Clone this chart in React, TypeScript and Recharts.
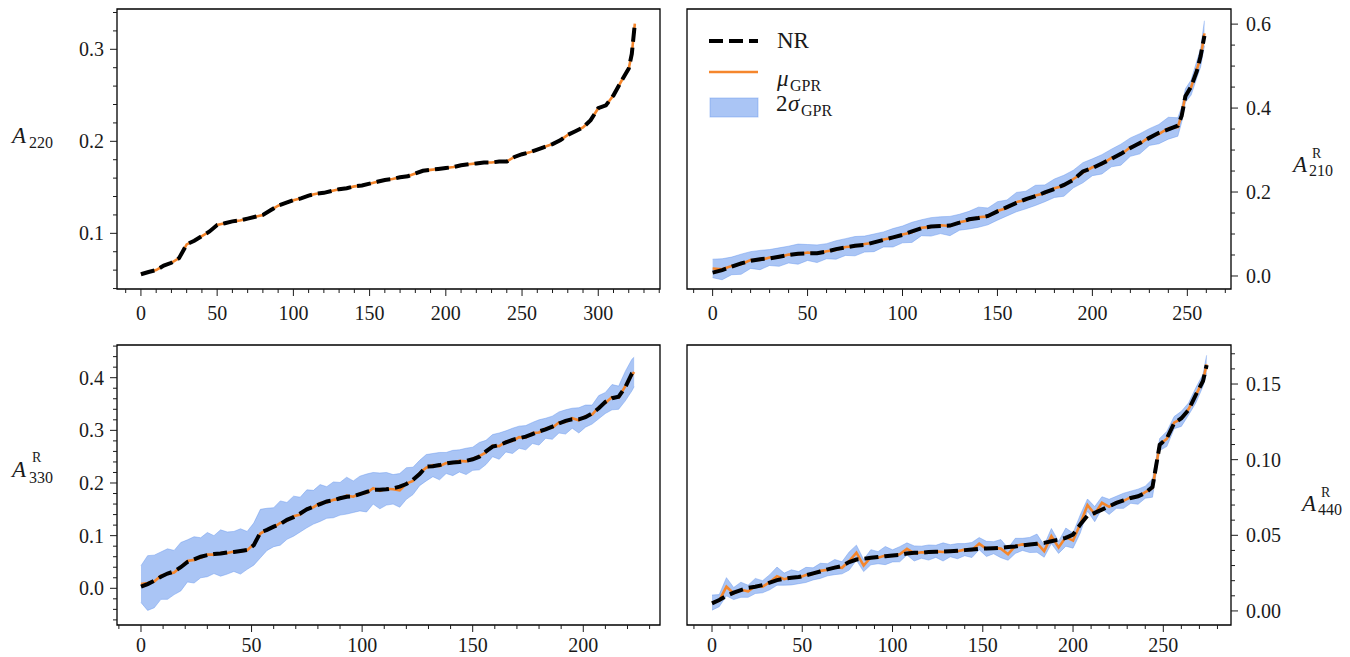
import React from 'react'
import { ComposedChart, Line, Area, XAxis, YAxis, ReferenceArea } from 'recharts'

// ---- A220 (top left) ----
const idxA220 = [0, 5, 10, 15, 20, 25, 30, 35, 40, 45, 50, 55, 60, 65, 70, 75, 80, 85, 90, 95, 100, 105, 110, 115, 120, 125, 130, 135, 140, 145, 150, 155, 160, 165, 170, 175, 180, 185, 190, 195, 200, 205, 210, 215, 220, 225, 230, 235, 240, 245, 250, 255, 260, 265, 270, 275, 280, 285, 290, 295, 300, 305, 310, 315, 320, 322, 324]
const nrA220 = [
  0.0555, 0.058, 0.06, 0.065, 0.068, 0.073, 0.088, 0.092, 0.097, 0.102,
  0.109, 0.111, 0.113, 0.114, 0.116, 0.118, 0.12, 0.125, 0.13, 0.133,
  0.136, 0.138, 0.141, 0.143, 0.144, 0.146, 0.148, 0.149, 0.151, 0.152,
  0.154, 0.156, 0.158, 0.159, 0.161, 0.162, 0.165, 0.168, 0.169, 0.17,
  0.171, 0.172, 0.174, 0.175, 0.176, 0.177, 0.177, 0.178, 0.178, 0.183,
  0.186, 0.188, 0.191, 0.194, 0.197, 0.201, 0.207, 0.211, 0.215, 0.223,
  0.236, 0.239, 0.25, 0.265, 0.279, 0.295, 0.328,
]
// GPR mean sits on top of NR here
const muA220 = nrA220

// ---- A210^R (top right) ----
const idxA210 = [0, 5, 10, 15, 20, 25, 30, 35, 40, 45, 50, 55, 60, 65, 70, 75, 80, 85, 90, 95, 100, 105, 110, 115, 120, 125, 130, 135, 140, 145, 150, 155, 160, 165, 170, 175, 180, 185, 190, 195, 200, 205, 210, 215, 220, 225, 230, 235, 240, 245, 247, 249, 252, 255, 257, 259]
const nrA210 = [
  0.008, 0.014, 0.022, 0.03, 0.036, 0.04, 0.042, 0.046, 0.05, 0.053,
  0.054, 0.054, 0.058, 0.064, 0.068, 0.072, 0.074, 0.08, 0.086, 0.092,
  0.098, 0.106, 0.114, 0.118, 0.119, 0.12, 0.127, 0.135, 0.138, 0.143,
  0.154, 0.164, 0.174, 0.183, 0.19, 0.199, 0.207, 0.217, 0.229, 0.249,
  0.257, 0.268, 0.279, 0.291, 0.305, 0.317, 0.329, 0.341, 0.349, 0.358,
  0.381, 0.428, 0.451, 0.488, 0.524, 0.572,
]
const muA210 = [
  0.018, 0.016, 0.024, 0.028, 0.038, 0.038, 0.044, 0.045, 0.051, 0.052,
  0.056, 0.053, 0.059, 0.062, 0.069, 0.071, 0.076, 0.079, 0.087, 0.091,
  0.099, 0.104, 0.115, 0.117, 0.121, 0.119, 0.128, 0.133, 0.14, 0.142,
  0.155, 0.162, 0.176, 0.181, 0.192, 0.197, 0.209, 0.215, 0.231, 0.246,
  0.259, 0.266, 0.281, 0.289, 0.307, 0.315, 0.331, 0.338, 0.352, 0.355,
  0.384, 0.43, 0.449, 0.492, 0.52, 0.578,
]
const sigA210 = [
  0.022, 0.025, 0.021, 0.024, 0.02, 0.023, 0.019, 0.022, 0.02, 0.024,
  0.019, 0.021, 0.018, 0.022, 0.02, 0.023, 0.019, 0.021, 0.018, 0.022,
  0.02, 0.024, 0.019, 0.022, 0.02, 0.023, 0.019, 0.021, 0.024, 0.02,
  0.022, 0.019, 0.023, 0.021, 0.024, 0.02, 0.022, 0.025, 0.021, 0.024,
  0.02, 0.023, 0.021, 0.025, 0.022, 0.024, 0.02, 0.023, 0.026, 0.022,
  0.018, 0.016, 0.018, 0.02, 0.022, 0.03,
]

// ---- A330^R (bottom left) ----
const idxA330 = [0, 3, 6, 9, 12, 15, 18, 21, 24, 27, 30, 33, 36, 39, 42, 45, 48, 51, 54, 57, 60, 63, 66, 69, 72, 75, 78, 81, 84, 87, 90, 93, 96, 99, 102, 105, 108, 111, 114, 117, 120, 123, 126, 129, 132, 135, 138, 141, 144, 147, 150, 153, 156, 159, 162, 165, 168, 171, 174, 177, 180, 183, 186, 189, 192, 195, 198, 201, 204, 207, 210, 213, 216, 219, 222, 223]
const nrA330 = [
  0.003, 0.008, 0.0146, 0.022, 0.028, 0.032, 0.04, 0.05, 0.055, 0.06,
  0.063, 0.065, 0.066, 0.068, 0.069, 0.071, 0.073, 0.082, 0.106, 0.111,
  0.117, 0.122, 0.13, 0.135, 0.142, 0.15, 0.155, 0.16, 0.165, 0.167,
  0.171, 0.174, 0.175, 0.179, 0.183, 0.187, 0.187, 0.188, 0.19, 0.193,
  0.198, 0.206, 0.217, 0.231, 0.232, 0.234, 0.237, 0.239, 0.24, 0.242,
  0.245, 0.25, 0.26, 0.269, 0.272, 0.277, 0.282, 0.285, 0.288, 0.293,
  0.298, 0.302, 0.307, 0.313, 0.318, 0.321, 0.321, 0.325, 0.332, 0.342,
  0.354, 0.361, 0.364, 0.382, 0.408, 0.41,
]
const muA330 = [
  0.008, 0.01, 0.013, 0.024, 0.027, 0.03, 0.041, 0.052, 0.054, 0.058,
  0.064, 0.064, 0.067, 0.067, 0.07, 0.07, 0.072, 0.084, 0.104, 0.112,
  0.116, 0.124, 0.128, 0.137, 0.14, 0.151, 0.154, 0.162, 0.163, 0.168,
  0.17, 0.176, 0.174, 0.18, 0.181, 0.19, 0.185, 0.189, 0.188, 0.186,
  0.199, 0.204, 0.219, 0.229, 0.234, 0.232, 0.238, 0.238, 0.242, 0.241,
  0.246, 0.251, 0.258, 0.271, 0.27, 0.279, 0.28, 0.287, 0.286, 0.295,
  0.296, 0.304, 0.305, 0.315, 0.316, 0.323, 0.319, 0.327, 0.33, 0.344,
  0.352, 0.363, 0.362, 0.384, 0.405, 0.411,
]
const sigA330 = [
  0.035, 0.052, 0.05, 0.045, 0.048, 0.042, 0.046, 0.04, 0.044, 0.038,
  0.042, 0.036, 0.044, 0.04, 0.038, 0.043, 0.036, 0.04, 0.046, 0.04,
  0.037, 0.042, 0.035, 0.038, 0.033, 0.036, 0.032, 0.035, 0.03, 0.034,
  0.031, 0.035, 0.03, 0.033, 0.036, 0.03, 0.034, 0.031, 0.028, 0.032,
  0.03, 0.026, 0.024, 0.025, 0.022, 0.026, 0.02, 0.024, 0.021, 0.025,
  0.022, 0.026, 0.023, 0.021, 0.025, 0.02, 0.024, 0.021, 0.023, 0.02,
  0.024, 0.019, 0.022, 0.02, 0.023, 0.019, 0.024, 0.021, 0.018, 0.022,
  0.02, 0.024, 0.022, 0.028, 0.03, 0.028,
]

// ---- A440^R (bottom right) ----
const idxA440 = [0, 4, 8, 12, 16, 20, 24, 28, 32, 36, 40, 44, 48, 52, 56, 60, 64, 68, 72, 76, 80, 84, 88, 92, 96, 100, 104, 108, 112, 116, 120, 124, 128, 132, 136, 140, 144, 148, 152, 156, 160, 164, 168, 172, 176, 180, 184, 188, 192, 196, 200, 204, 208, 212, 216, 220, 224, 228, 232, 236, 240, 244, 248, 252, 256, 260, 264, 268, 272, 274]
const nrA440 = [
  0.005, 0.0072, 0.0099, 0.0121, 0.0138, 0.0152, 0.016, 0.0171, 0.0187, 0.0204,
  0.0213, 0.022, 0.0224, 0.0235, 0.0248, 0.0261, 0.0275, 0.0286, 0.0297, 0.0323,
  0.034, 0.0345, 0.0351, 0.0356, 0.0362, 0.0367, 0.0371, 0.038, 0.0384, 0.0384,
  0.0389, 0.0391, 0.0393, 0.0395, 0.0398, 0.0402, 0.0406, 0.0411, 0.0413, 0.0415,
  0.0417, 0.0422, 0.0426, 0.0433, 0.0439, 0.0444, 0.045, 0.0461, 0.0472, 0.0483,
  0.0505, 0.0571, 0.063, 0.0648, 0.067, 0.0692, 0.0714, 0.0731, 0.0747, 0.0758,
  0.078, 0.0819, 0.1098, 0.1142, 0.1241, 0.1274, 0.1329, 0.1428, 0.152, 0.1625,
]
const muA440 = [
  0.0055, 0.0068, 0.016, 0.0115, 0.014, 0.013, 0.0165, 0.016, 0.019, 0.023,
  0.021, 0.0222, 0.022, 0.0238, 0.0245, 0.0265, 0.0272, 0.029, 0.0285, 0.033,
  0.0385, 0.03, 0.0355, 0.0352, 0.0366, 0.0364, 0.0375, 0.041, 0.038, 0.0388,
  0.0386, 0.0394, 0.039, 0.0398, 0.0395, 0.0405, 0.0403, 0.0445, 0.041, 0.0418,
  0.0412, 0.0375, 0.043, 0.044, 0.0436, 0.0448, 0.0395, 0.0495, 0.042, 0.0488,
  0.0465, 0.0575, 0.07, 0.064, 0.0715, 0.0688, 0.0718, 0.0728, 0.0752, 0.0755,
  0.0785, 0.0812, 0.11, 0.1138, 0.1245, 0.127, 0.1335, 0.1425, 0.1525, 0.163,
]
const sigA440 = [
  0.005, 0.004, 0.006, 0.004, 0.005, 0.004, 0.005, 0.004, 0.005, 0.006,
  0.004, 0.005, 0.004, 0.005, 0.004, 0.005, 0.004, 0.005, 0.004, 0.006,
  0.005, 0.004, 0.005, 0.004, 0.006, 0.004, 0.005, 0.004, 0.005, 0.004,
  0.005, 0.004, 0.006, 0.004, 0.005, 0.004, 0.005, 0.004, 0.005, 0.004,
  0.006, 0.004, 0.005, 0.004, 0.005, 0.006, 0.004, 0.005, 0.004, 0.006,
  0.005, 0.006, 0.004, 0.005, 0.004, 0.005, 0.004, 0.005, 0.004, 0.005,
  0.004, 0.006, 0.004, 0.005, 0.004, 0.005, 0.004, 0.005, 0.004, 0.006,
]

// tick labels
const xMajorA220 = [0, 50, 100, 150, 200, 250, 300]
const xMajorA210 = [0, 50, 100, 150, 200, 250]
const xMajorA330 = [0, 50, 100, 150, 200]
const xMajorA440 = [0, 50, 100, 150, 200, 250]
const yMajorA220 = [0.1, 0.2, 0.3]
const yMajorA210 = [0.0, 0.2, 0.4, 0.6]
const yMajorA330 = [0.0, 0.1, 0.2, 0.3, 0.4]
const yMajorA440 = [0.0, 0.05, 0.1, 0.15]

const SERIF = '"Liberation Serif", "DejaVu Serif", serif'
const INK = '#1a1a1a'
const ORANGE = '#f5862c'
const BLUE = '#6495ed'

function steps(lo: number, hi: number, step: number) {
  const out: number[] = []
  for (let v = lo; v <= hi + step / 1000; v += step) out.push(Math.round(v * 1e6) / 1e6)
  return out
}

function buildRows(xs: number[], nr: number[], mu: number[], sig?: number[]) {
  return xs.map((x, i) => ({
    x,
    nr: nr[i],
    mu: mu[i],
    band: sig ? [mu[i] - sig[i], mu[i] + sig[i]] : undefined,
  }))
}

function makeTick(side: 'bottom' | 'left' | 'right', majors: number[], digits: number, labelDy = 31) {
  return (props: any) => {
    const { x, y, payload } = props
    const v = payload.value as number
    const major = majors.some((m) => Math.abs(m - v) < 1e-9)
    const len = major ? 7 : 4
    const label = major ? v.toFixed(digits) : ''
    if (side === 'bottom') {
      return (
        <g>
          <line x1={x} x2={x} y1={y} y2={y + len} stroke={INK} strokeWidth={1} />
          {major && (
            <text x={x} y={y + labelDy} textAnchor="middle" fontFamily={SERIF} fontSize={20} fill={INK}>
              {label}
            </text>
          )}
        </g>
      )
    }
    const dir = side === 'left' ? -1 : 1
    return (
      <g>
        <line x1={x} x2={x + dir * len} y1={y} y2={y} stroke={INK} strokeWidth={1} />
        {major && (
          <text
            x={side === 'left' ? x - 13 : x + 15}
            y={y + 7}
            textAnchor={side === 'left' ? 'end' : 'start'}
            fontFamily={SERIF}
            fontSize={20}
            fill={INK}
          >
            {label}
          </text>
        )}
      </g>
    )
  }
}

type PanelProps = {
  left: number
  top: number
  height: number
  side: 'left' | 'right'
  rows: any[]
  band: boolean
  xDom: [number, number]
  yDom: [number, number]
  xTicks: number[]
  xMajor: number[]
  yTicks: number[]
  yMajor: number[]
  yDigits: number
  marginTop: number
  xAxisH: number
  labelDy: number
}

function Panel(p: PanelProps) {
  const isLeft = p.side === 'left'
  return (
    <div style={{ position: 'absolute', left: p.left, top: p.top }}>
      <ComposedChart
        width={680}
        height={p.height}
        data={p.rows}
        margin={{ top: p.marginTop, right: isLeft ? 20 : 0, bottom: 0, left: isLeft ? 0 : 17 }}
      >
        <XAxis
          dataKey="x"
          type="number"
          domain={p.xDom}
          ticks={p.xTicks}
          interval={0}
          allowDataOverflow
          axisLine={false}
          tickLine={false}
          tickSize={0}
          tickMargin={0}
          height={p.xAxisH}
          tick={makeTick('bottom', p.xMajor, 0, p.labelDy)}
        />
        <YAxis
          type="number"
          orientation={p.side}
          width={isLeft ? 117 : 119}
          domain={p.yDom}
          ticks={p.yTicks}
          interval={0}
          allowDataOverflow
          axisLine={false}
          tickLine={false}
          tickSize={0}
          tickMargin={0}
          tick={makeTick(p.side, p.yMajor, p.yDigits)}
        />
        {p.band && (
          <Area
            dataKey="band"
            type="linear"
            stroke={BLUE}
            strokeOpacity={0.45}
            strokeWidth={1}
            fill={BLUE}
            fillOpacity={0.55}
            isAnimationActive={false}
            dot={false}
            activeDot={false}
          />
        )}
        <Line dataKey="mu" type="linear" stroke={ORANGE} strokeWidth={2.6} dot={false} activeDot={false} isAnimationActive={false} />
        <Line
          dataKey="nr"
          type="linear"
          stroke="#000"
          strokeWidth={4}
          strokeDasharray="14 6"
          dot={false}
          activeDot={false}
          isAnimationActive={false}
        />
        <ReferenceArea
          x1={p.xDom[0]}
          x2={p.xDom[1]}
          y1={p.yDom[0]}
          y2={p.yDom[1]}
          fill="none"
          fillOpacity={0}
          stroke="#000"
          strokeWidth={1.3}
          ifOverflow="visible"
        />
      </ComposedChart>
    </div>
  )
}

const txt = { fontFamily: SERIF, fill: INK } as const

export default function App() {
  return (
    <div style={{ position: 'absolute', left: 0, top: 0, width: 1350, height: 657, background: '#fff', overflow: 'hidden' }}>
      <Panel
        left={0}
        top={0}
        height={330}
        side="left"
        rows={buildRows(idxA220, nrA220, muA220)}
        band={false}
        xDom={[-15.7, 340.5]}
        yDom={[0.0395, 0.3438]}
        xTicks={steps(-10, 340, 10)}
        xMajor={xMajorA220}
        yTicks={steps(0.04, 0.34, 0.02)}
        yMajor={yMajorA220}
        yDigits={1}
        marginTop={9}
        xAxisH={41}
        labelDy={31}
      />
      <Panel
        left={670}
        top={0}
        height={330}
        side="right"
        rows={buildRows(idxA210, nrA210, muA210, sigA210)}
        band
        xDom={[-13.5, 273]}
        yDom={[-0.031, 0.636]}
        xTicks={steps(-10, 270, 10)}
        xMajor={xMajorA210}
        yTicks={steps(0, 0.6, 0.05)}
        yMajor={yMajorA210}
        yDigits={1}
        marginTop={9}
        xAxisH={41}
        labelDy={31}
      />
      <Panel
        left={0}
        top={330}
        height={327}
        side="left"
        rows={buildRows(idxA330, nrA330, muA330, sigA330)}
        band
        xDom={[-10.85, 234.7]}
        yDom={[-0.0697, 0.4621]}
        xTicks={steps(-10, 230, 10)}
        xMajor={xMajorA330}
        yTicks={steps(-0.06, 0.46, 0.02)}
        yMajor={yMajorA330}
        yDigits={1}
        marginTop={15}
        xAxisH={32}
        labelDy={27}
      />
      <Panel
        left={670}
        top={330}
        height={327}
        side="right"
        rows={buildRows(idxA440, nrA440, muA440, sigA440)}
        band
        xDom={[-13.85, 287.5]}
        yDom={[-0.0093, 0.1758]}
        xTicks={steps(-10, 280, 10)}
        xMajor={xMajorA440}
        yTicks={steps(0, 0.17, 0.01)}
        yMajor={yMajorA440}
        yDigits={2}
        marginTop={15}
        xAxisH={32}
        labelDy={27}
      />
      <svg width={1350} height={657} style={{ position: 'absolute', left: 0, top: 0, pointerEvents: 'none' }}>
        {/* axis labels */}
        <text x={12} y={143} fontSize={23} fontStyle="italic" {...txt}>A</text>
        <text x={29} y={148} fontSize={16} {...txt}>220</text>

        <text x={1293} y={172} fontSize={23} fontStyle="italic" {...txt}>A</text>
        <text x={1312} y={158} fontSize={14} {...txt}>R</text>
        <text x={1309} y={176} fontSize={16} {...txt}>210</text>

        <text x={12} y={477} fontSize={23} fontStyle="italic" {...txt}>A</text>
        <text x={32} y={462} fontSize={14} {...txt}>R</text>
        <text x={29} y={483} fontSize={16} {...txt}>330</text>

        <text x={1302} y={511} fontSize={23} fontStyle="italic" {...txt}>A</text>
        <text x={1321} y={497} fontSize={14} {...txt}>R</text>
        <text x={1318} y={515} fontSize={16} {...txt}>440</text>

        {/* legend */}
        <line x1={709} x2={758} y1={41} y2={41} stroke="#000" strokeWidth={4} strokeDasharray="14 6" />
        <text x={777} y={48} fontSize={23} {...txt}>NR</text>
        <line x1={709} x2={758} y1={72} y2={72} stroke={ORANGE} strokeWidth={2.6} />
        <text x={777} y={86} fontSize={23} fontStyle="italic" {...txt}>μ</text>
        <text x={790} y={91} fontSize={16} {...txt}>GPR</text>
        <rect x={710} y={98} width={48} height={19} fill={BLUE} fillOpacity={0.55} stroke={BLUE} strokeOpacity={0.45} />
        <text x={776} y={111} fontSize={23} {...txt}>2</text>
        <text x={788} y={111} fontSize={23} fontStyle="italic" {...txt}>σ</text>
        <text x={801} y={116} fontSize={16} {...txt}>GPR</text>
      </svg>
    </div>
  )
}
